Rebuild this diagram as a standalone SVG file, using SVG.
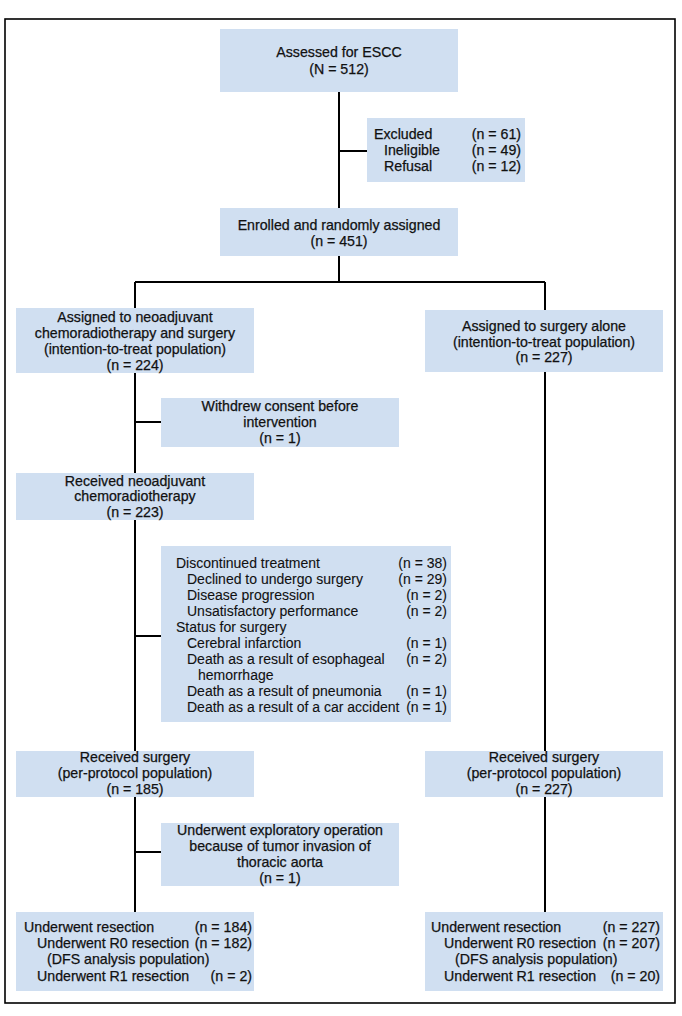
<svg xmlns="http://www.w3.org/2000/svg" width="682" height="1016" viewBox="0 0 682 1016">
<style>
.box{fill:#d0dff1;}
.ln{stroke:#000;stroke-width:2;fill:none;}
text{font-family:"Liberation Sans",Arial,sans-serif;font-size:14.2px;fill:#111;stroke:#111;stroke-width:0.25;}
.c{text-anchor:middle;}
.r{text-anchor:end;}
.d{font-size:14px;stroke-width:0.1;}
</style>
<rect x="0" y="0" width="682" height="1016" fill="#fff"/>
<rect x="5" y="19" width="670" height="984" fill="none" stroke="#000" stroke-width="1.6"/>
<g id="connectors">
<path class="ln" d="M339 92V208M339 151H367M339 256V282M135 282H545M135 282V912M545 282V912M135 422H161M135 636H161M135 852H161"/>
</g>
<g id="assessed">
<rect class="box" x="220" y="29" width="238" height="63"/>
<text class="c" x="339" y="57">Assessed for ESCC</text>
<text class="c" x="339" y="74">(N = 512)</text>
</g>
<g id="excluded">
<rect class="box" x="367" y="118" width="158" height="64"/>
<text x="374" y="139">Excluded</text>
<text x="384" y="155">Ineligible</text>
<text x="384" y="171">Refusal</text>
<text class="r" x="521" y="139">(n = 61)</text>
<text class="r" x="521" y="155">(n = 49)</text>
<text class="r" x="521" y="171">(n = 12)</text>
</g>
<g id="enrolled">
<rect class="box" x="220" y="208" width="238" height="48"/>
<text class="c" x="339" y="229.5">Enrolled and randomly assigned</text>
<text class="c" x="339" y="245.5">(n = 451)</text>
</g>
<g id="assigned-crt">
<rect class="box" x="16" y="308" width="238" height="65"/>
<text class="c" x="135" y="322">Assigned to neoadjuvant</text>
<text class="c" x="135" y="338">chemoradiotherapy and surgery</text>
<text class="c" x="135" y="354">(intention-to-treat population)</text>
<text class="c" x="135" y="370">(n = 224)</text>
</g>
<g id="assigned-surgery">
<rect class="box" x="425" y="310" width="238" height="62"/>
<text class="c" x="544" y="331">Assigned to surgery alone</text>
<text class="c" x="544" y="347">(intention-to-treat population)</text>
<text class="c" x="544" y="362">(n = 227)</text>
</g>
<g id="withdrew">
<rect class="box" x="161" y="398" width="238" height="49"/>
<text class="c" x="280" y="411">Withdrew consent before</text>
<text class="c" x="280" y="427">intervention</text>
<text class="c" x="280" y="443">(n = 1)</text>
</g>
<g id="received-crt">
<rect class="box" x="16" y="473" width="238" height="47"/>
<text class="c" x="135" y="486">Received neoadjuvant</text>
<text class="c" x="135" y="501">chemoradiotherapy</text>
<text class="c" x="135" y="517">(n = 223)</text>
</g>
<g id="discontinued">
<rect class="box" x="161" y="546" width="290" height="176"/>
<text class="d" x="176" y="567.5">Discontinued treatment</text>
<text class="d" x="187" y="583.5">Declined to undergo surgery</text>
<text class="d" x="187" y="599.5">Disease progression</text>
<text class="d" x="187" y="615.5">Unsatisfactory performance</text>
<text class="d" x="176" y="631.5">Status for surgery</text>
<text class="d" x="187" y="647.5">Cerebral infarction</text>
<text class="d" x="187" y="663.5">Death as a result of esophageal</text>
<text class="d" x="198" y="679.5">hemorrhage</text>
<text class="d" x="187" y="695.5">Death as a result of pneumonia</text>
<text class="d" x="187" y="711.5">Death as a result of a car accident</text>
<text class="d r" x="447" y="567.5">(n = 38)</text>
<text class="d r" x="447" y="583.5">(n = 29)</text>
<text class="d r" x="447" y="599.5">(n = 2)</text>
<text class="d r" x="447" y="615.5">(n = 2)</text>
<text class="d r" x="447" y="647.5">(n = 1)</text>
<text class="d r" x="447" y="663.5">(n = 2)</text>
<text class="d r" x="447" y="695.5">(n = 1)</text>
<text class="d r" x="447" y="711.5">(n = 1)</text>
</g>
<g id="received-surgery-crt">
<rect class="box" x="16" y="751" width="238" height="46"/>
<text class="c" x="135" y="762">Received surgery</text>
<text class="c" x="135" y="778">(per-protocol population)</text>
<text class="c" x="135" y="794">(n = 185)</text>
</g>
<g id="received-surgery-alone">
<rect class="box" x="425" y="751" width="238" height="46"/>
<text class="c" x="544" y="762">Received surgery</text>
<text class="c" x="544" y="778">(per-protocol population)</text>
<text class="c" x="544" y="794">(n = 227)</text>
</g>
<g id="exploratory">
<rect class="box" x="161" y="823" width="238" height="63"/>
<text class="c" x="280" y="835">Underwent exploratory operation</text>
<text class="c" x="280" y="851">because of tumor invasion of</text>
<text class="c" x="280" y="867">thoracic aorta</text>
<text class="c" x="280" y="883">(n = 1)</text>
</g>
<g id="resection-crt">
<rect class="box" x="16" y="912" width="238" height="79"/>
<text x="24" y="932">Underwent  resection</text>
<text x="37" y="948">Underwent R0 resection</text>
<text x="47" y="964">(DFS analysis population)</text>
<text x="37" y="981">Underwent R1 resection</text>
<text class="r" x="252" y="932">(n = 184)</text>
<text class="r" x="252" y="948">(n = 182)</text>
<text class="r" x="252" y="981">(n = 2)</text>
</g>
<g id="resection-surgery">
<rect class="box" x="425" y="912" width="238" height="79"/>
<text x="431" y="932">Underwent resection</text>
<text x="444" y="948">Underwent R0 resection</text>
<text x="455" y="964">(DFS analysis population)</text>
<text x="444" y="981">Underwent R1 resection</text>
<text class="r" x="660" y="932">(n = 227)</text>
<text class="r" x="660" y="948">(n = 207)</text>
<text class="r" x="660" y="981">(n = 20)</text>
</g>
</svg>
